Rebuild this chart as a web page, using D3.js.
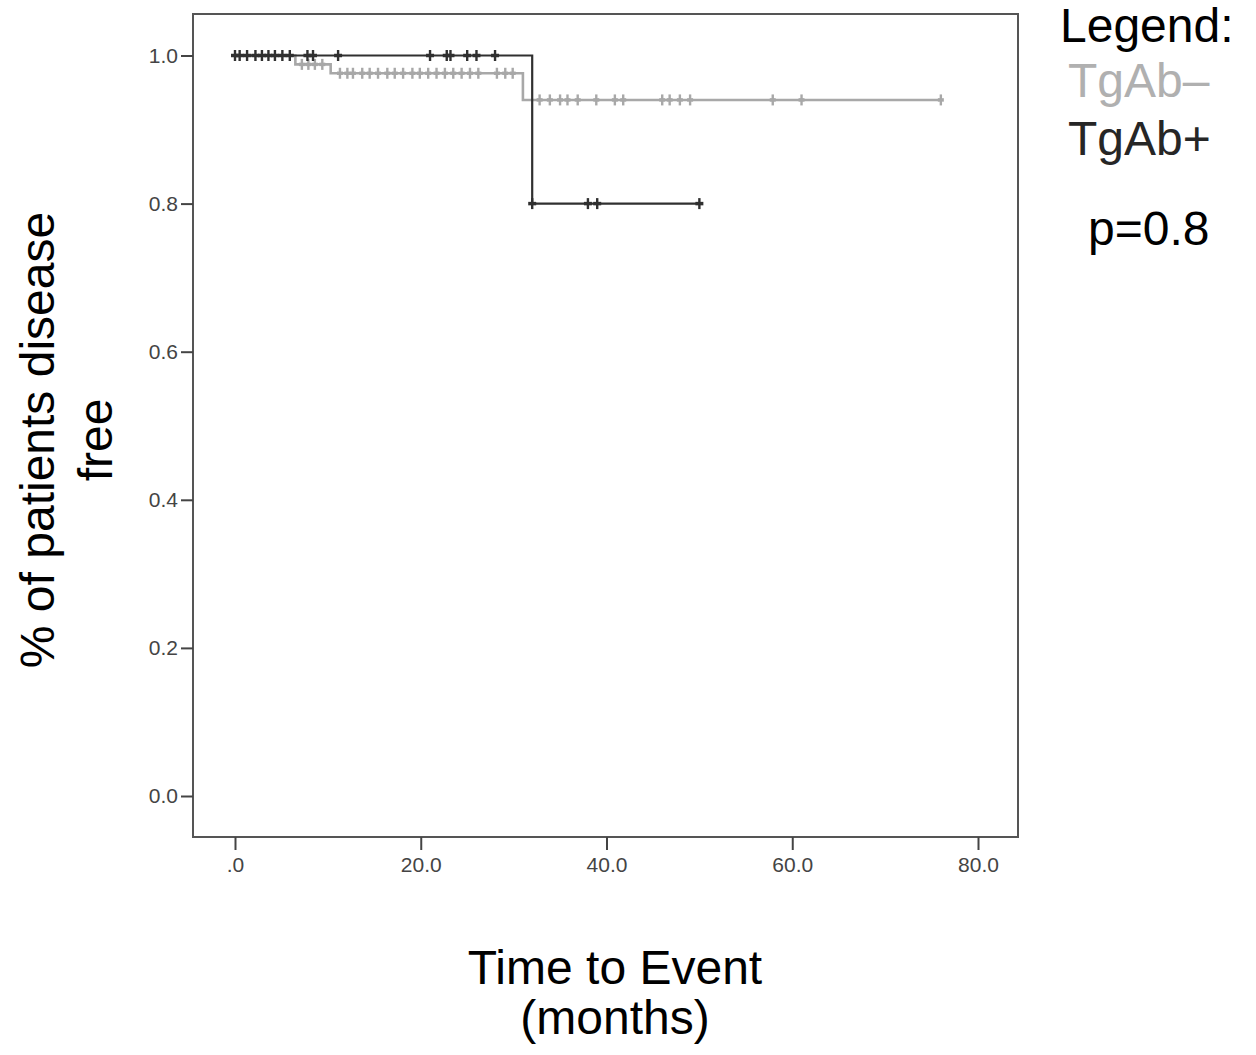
<!DOCTYPE html>
<html>
<head>
<meta charset="utf-8">
<script src="https://cdn.jsdelivr.net/npm/d3@7"></script>
<style>
  html, body { margin: 0; padding: 0; background: #fff; }
  svg { display: block; }
  text { font-family: "Liberation Sans", Arial, sans-serif; }
</style>
</head>
<body>
<svg id="chart" width="1256" height="1055"></svg>
<script>
// ---- Data ----
const xTicks = [0, 20, 40, 60, 80];
const yTicks = [0.0, 0.2, 0.4, 0.6, 0.8, 1.0];

// TgAb- (grey) Kaplan-Meier step curve
const negTimes = [0, 6.5, 10.3, 31.0, 76.0];
const negSurv  = [1.0, 0.988, 0.976, 0.94, 0.94];
// TgAb- censored observations (months)
const negCensored = [7.2, 7.9, 8.6, 9.4,
  11.3, 12.1, 12.7, 13.7, 14.5, 15.4, 16.4, 17.2, 18.1, 19.1, 19.9, 20.8, 21.7, 22.6, 23.5, 24.4, 25.3, 26.2, 28.2, 29.1, 29.9,
  32.8, 33.9, 35.0, 35.8, 36.9, 38.9, 40.9, 41.8, 46.0, 46.8, 47.9, 49.0, 57.9, 61.0, 76.0];

// TgAb+ (dark) Kaplan-Meier step curve
const posTimes = [0, 32.0, 50.0];
const posSurv  = [1.0, 0.8, 0.8];
// TgAb+ censored observations (months)
const posCensored = [0, 0.5, 1.3, 2.2, 2.9, 3.6, 4.3, 5.1, 5.9, 7.8, 8.4, 11.1,
  21.0, 22.8, 23.2, 25.0, 26.0, 28.0, 32.0, 38.0, 39.0, 50.0];

const legendLabels = ["TgAb\u2013", "TgAb+"];
const pValueText = "p=0.8";

// ---- Layout ----
const svg = d3.select("#chart");
const frame = {left: 193, top: 14, right: 1018, bottom: 837};
const x = d3.scaleLinear().domain([0, 80]).range([235, 978]);
const y = d3.scaleLinear().domain([0, 1]).range([796, 55.5]);

const greyCol = "#a8a8a8";
const darkCol = "#303030";

// frame
svg.append("rect")
  .attr("x", frame.left).attr("y", frame.top)
  .attr("width", frame.right - frame.left).attr("height", frame.bottom - frame.top)
  .attr("fill", "none").attr("stroke", "#555").attr("stroke-width", 2);

// axes
const yAxis = d3.axisLeft(y).tickValues(yTicks).tickFormat(d3.format(".1f"))
  .tickSize(12).tickPadding(3);
const gy = svg.append("g").attr("transform", `translate(${frame.left},0)`).call(yAxis);
gy.select(".domain").remove();

const xAxis = d3.axisBottom(x).tickValues(xTicks)
  .tickFormat(d => d === 0 ? ".0" : d.toFixed(1))
  .tickSize(13).tickPadding(7);
const gx = svg.append("g").attr("transform", `translate(0,${frame.bottom})`).call(xAxis);
gx.select(".domain").remove();

[gx, gy].forEach(g => {
  g.selectAll(".tick line").attr("stroke", "#444").attr("stroke-width", 2);
  g.selectAll(".tick text").attr("fill", "#444")
    .style("font-family", "'Liberation Sans', Arial, sans-serif")
    .style("font-size", "21px");
});

// step function helper
function survAt(times, surv, t) {
  let s = surv[0];
  for (let i = 0; i < times.length; i++) { if (times[i] <= t) s = surv[i]; }
  return s;
}

const line = d3.line().x(d => x(d[0])).y(d => y(d[1])).curve(d3.curveStepAfter);

function drawSeries(times, surv, censored, color, markW, lw) {
  const pts = times.map((t, i) => [t, surv[i]]);
  svg.append("path").datum(pts)
    .attr("d", line).attr("fill", "none")
    .attr("stroke", color).attr("stroke-width", lw);
  const g = svg.append("g");
  censored.forEach(t => {
    const cx = x(t), cy = y(survAt(times, surv, t));
    g.append("line").attr("x1", cx).attr("x2", cx).attr("y1", cy - 5.5).attr("y2", cy + 5.5)
      .attr("stroke", color).attr("stroke-width", 2.4);
    g.append("line").attr("x1", cx - markW).attr("x2", cx + markW).attr("y1", cy).attr("y2", cy)
      .attr("stroke", color).attr("stroke-width", 3.5);
  });
}

drawSeries(negTimes, negSurv, negCensored, greyCol, 3, 2.6);
drawSeries(posTimes, posSurv, posCensored, darkCol, 4, 2.2);

// axis titles
const big = "48px";
svg.append("text").attr("x", 615).attr("y", 984).attr("text-anchor", "middle")
  .style("font-size", big).attr("fill", "#000").text("Time to Event");
svg.append("text").attr("x", 615).attr("y", 1034).attr("text-anchor", "middle")
  .style("font-size", big).attr("fill", "#000").text("(months)");

const yl = svg.append("g").attr("transform", "translate(0,440) rotate(-90)");
yl.append("text").attr("x", 0).attr("y", 54).attr("text-anchor", "middle")
  .style("font-size", big).attr("fill", "#000").text("% of patients disease");
yl.append("text").attr("x", 0).attr("y", 112).attr("text-anchor", "middle")
  .style("font-size", big).attr("fill", "#000").text("free");

// legend
svg.append("text").attr("x", 1060).attr("y", 42).style("font-size", big)
  .attr("fill", "#000").text("Legend:");
svg.append("text").attr("x", 1068).attr("y", 97).style("font-size", big)
  .attr("fill", "#b0b0b0").text(legendLabels[0]);
svg.append("text").attr("x", 1068).attr("y", 155).style("font-size", big)
  .attr("fill", "#262626").text(legendLabels[1]);
svg.append("text").attr("x", 1088).attr("y", 245).style("font-size", big)
  .attr("fill", "#000").text(pValueText);
</script>
</body>
</html>
